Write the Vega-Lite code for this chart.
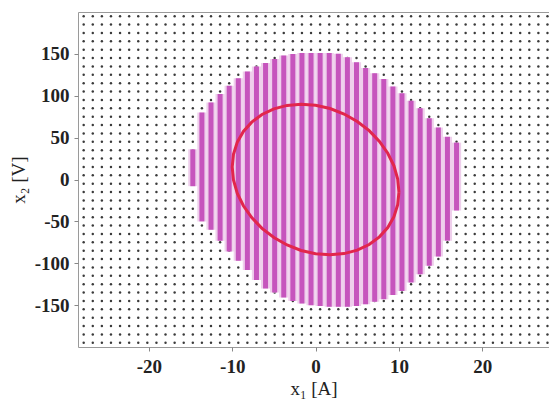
{
  "$schema": "https://vega.github.io/schema/vega-lite/v6.json",
  "width": 471,
  "height": 335,
  "autosize": {"type": "none"},
  "padding": {"left": 78, "top": 12, "right": 0, "bottom": 52},
  "background": "white",
  "config": {
    "view": {"stroke": "#9a9a9a", "strokeWidth": 1},
    "axis": {
      "domain": false,
      "grid": false,
      "tickColor": "#888",
      "tickSize": 4,
      "labelFont": "Liberation Serif",
      "labelFontSize": 19,
      "labelFontWeight": "bold",
      "labelColor": "#222",
      "titleFont": "Liberation Serif",
      "titleFontSize": 19,
      "titleFontWeight": "normal",
      "titleColor": "#222"
    }
  },
  "datasets": {
    "grid": [
      {
        "x": [-27.818, -26.727, -25.636, -24.545, -23.455, -22.364, -21.273, -20.182, -19.091, -18, -16.909, -15.818, -14.727, -13.636, -12.545, -11.455, -10.364, -9.273, -8.182, -7.091, -6, -4.909, -3.818, -2.727, -1.636, -0.545, 0.545, 1.636, 2.727, 3.818, 4.909, 6, 7.091, 8.182, 9.273, 10.364, 11.455, 12.545, 13.636, 14.727, 15.818, 16.909, 18, 19.091, 20.182, 21.273, 22.364, 23.455, 24.545, 25.636, 26.727, 27.818],
        "y": [-195, -185, -175, -165, -155, -145, -135, -125, -115, -105, -95, -85, -75, -65, -55, -45, -35, -25, -15, -5, 5, 15, 25, 35, 45, 55, 65, 75, 85, 95, 105, 115, 125, 135, 145, 155, 165, 175, 185, 195]
      }
    ],
    "region": [
      {"x": -14.727, "lo": -8, "hi": 36},
      {"x": -13.636, "lo": -50, "hi": 80},
      {"x": -12.545, "lo": -60, "hi": 92},
      {"x": -11.455, "lo": -73, "hi": 102},
      {"x": -10.364, "lo": -86, "hi": 112},
      {"x": -9.273, "lo": -97, "hi": 121},
      {"x": -8.182, "lo": -108, "hi": 129},
      {"x": -7.091, "lo": -120, "hi": 135},
      {"x": -6, "lo": -130, "hi": 139},
      {"x": -4.909, "lo": -135, "hi": 144},
      {"x": -3.818, "lo": -141, "hi": 148},
      {"x": -2.727, "lo": -145, "hi": 150},
      {"x": -1.636, "lo": -148, "hi": 151},
      {"x": -0.545, "lo": -150, "hi": 151},
      {"x": 0.545, "lo": -151, "hi": 151},
      {"x": 1.636, "lo": -152, "hi": 151},
      {"x": 2.727, "lo": -152, "hi": 150},
      {"x": 3.818, "lo": -152, "hi": 146},
      {"x": 4.909, "lo": -151, "hi": 140},
      {"x": 6, "lo": -149, "hi": 133},
      {"x": 7.091, "lo": -146, "hi": 127},
      {"x": 8.182, "lo": -143, "hi": 120},
      {"x": 9.273, "lo": -138, "hi": 111},
      {"x": 10.364, "lo": -133, "hi": 103},
      {"x": 11.455, "lo": -123, "hi": 94},
      {"x": 12.545, "lo": -113, "hi": 85},
      {"x": 13.636, "lo": -103, "hi": 73},
      {"x": 14.727, "lo": -92, "hi": 62},
      {"x": 15.818, "lo": -73, "hi": 51},
      {"x": 16.909, "lo": -37, "hi": 44}
    ],
    "ellipse": [
      {"i": 0, "x": 10, "y": -15},
      {"i": 1, "x": 9.85, "y": 0.63},
      {"i": 2, "x": 9.4, "y": 16.24},
      {"i": 3, "x": 8.66, "y": 31.36},
      {"i": 4, "x": 7.66, "y": 45.52},
      {"i": 5, "x": 6.43, "y": 58.31},
      {"i": 6, "x": 5.0, "y": 69.32},
      {"i": 7, "x": 3.42, "y": 78.22},
      {"i": 8, "x": 1.74, "y": 84.75},
      {"i": 9, "x": 0, "y": 88.7},
      {"i": 10, "x": -1.74, "y": 89.95},
      {"i": 11, "x": -3.42, "y": 88.48},
      {"i": 12, "x": -5.0, "y": 84.32},
      {"i": 13, "x": -6.43, "y": 77.59},
      {"i": 14, "x": -7.66, "y": 68.5},
      {"i": 15, "x": -8.66, "y": 57.34},
      {"i": 16, "x": -9.4, "y": 44.44},
      {"i": 17, "x": -9.85, "y": 30.17},
      {"i": 18, "x": -10, "y": 15},
      {"i": 19, "x": -9.85, "y": -0.63},
      {"i": 20, "x": -9.4, "y": -16.24},
      {"i": 21, "x": -8.66, "y": -31.36},
      {"i": 22, "x": -7.66, "y": -45.52},
      {"i": 23, "x": -6.43, "y": -58.31},
      {"i": 24, "x": -5.0, "y": -69.32},
      {"i": 25, "x": -3.42, "y": -78.22},
      {"i": 26, "x": -1.74, "y": -84.75},
      {"i": 27, "x": 0, "y": -88.7},
      {"i": 28, "x": 1.74, "y": -89.95},
      {"i": 29, "x": 3.42, "y": -88.48},
      {"i": 30, "x": 5.0, "y": -84.32},
      {"i": 31, "x": 6.43, "y": -77.59},
      {"i": 32, "x": 7.66, "y": -68.5},
      {"i": 33, "x": 8.66, "y": -57.34},
      {"i": 34, "x": 9.4, "y": -44.44},
      {"i": 35, "x": 9.85, "y": -30.17},
      {"i": 36, "x": 10, "y": -15}
    ]
  },
  "layer": [
    {
      "data": {"name": "grid"},
      "transform": [{"flatten": ["x"]}, {"flatten": ["y"]}],
      "mark": {"type": "circle", "size": 6, "color": "#3a3a3a", "opacity": 1},
      "encoding": {
        "x": {"field": "x", "type": "quantitative", "scale": {"domain": [-28.5, 28.0], "nice": false, "zero": false}, "axis": {"values": [-20, -10, 0, 10, 20], "labelExpr": "'' + datum.value", "labelPadding": 6, "title": "x₁ [A]", "titlePadding": 3}},
        "y": {"field": "y", "type": "quantitative", "scale": {"domain": [-200, 200], "nice": false, "zero": false}, "axis": {"values": [-150, -100, -50, 0, 50, 100, 150], "labelExpr": "'' + datum.value", "labelPadding": 5, "title": "x₂ [V]", "titlePadding": 6}}
      }
    },
    {
      "data": {"name": "region"},
      "mark": {"type": "rule", "strokeWidth": 9.2, "color": "#efcfec", "strokeCap": "butt"},
      "encoding": {
        "x": {"field": "x", "type": "quantitative"},
        "y": {"field": "lo", "type": "quantitative"},
        "y2": {"field": "hi"}
      }
    },
    {
      "data": {"name": "region"},
      "mark": {"type": "rule", "strokeWidth": 5, "color": "#c655bd", "strokeCap": "butt"},
      "encoding": {
        "x": {"field": "x", "type": "quantitative"},
        "y": {"field": "lo", "type": "quantitative"},
        "y2": {"field": "hi"}
      }
    },
    {
      "data": {"name": "ellipse"},
      "mark": {"type": "line", "color": "#e2264c", "strokeWidth": 3},
      "encoding": {
        "x": {"field": "x", "type": "quantitative"},
        "y": {"field": "y", "type": "quantitative"},
        "order": {"field": "i", "type": "quantitative"}
      }
    }
  ]
}
